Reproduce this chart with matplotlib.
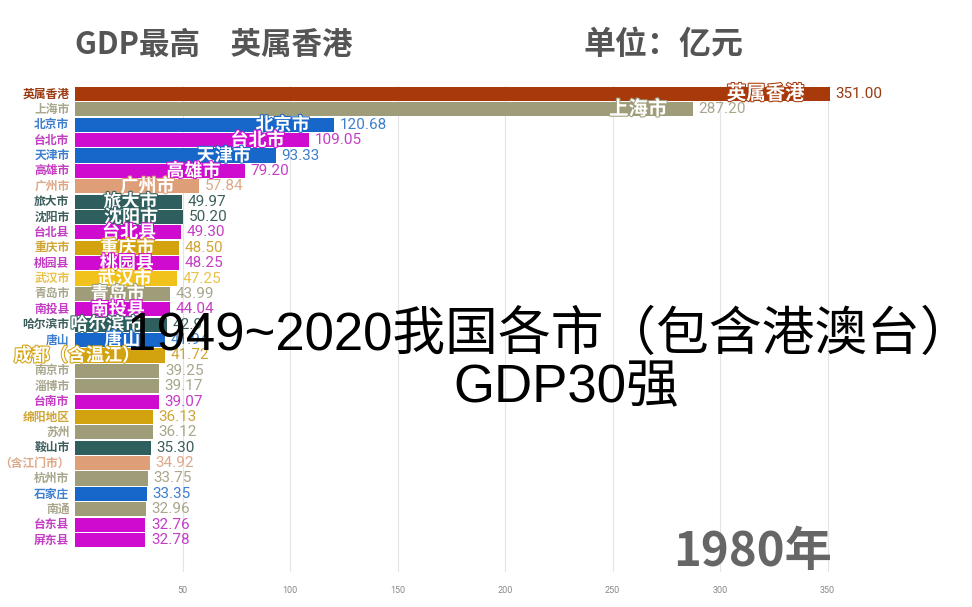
import matplotlib
matplotlib.use("Agg")
import matplotlib.pyplot as plt
import matplotlib.patheffects as pe
from matplotlib import font_manager as fm

plt.rcParams['font.family'] = ['Noto Sans CJK SC', 'DejaVu Sans']

_names = {f.name for f in fm.fontManager.ttflist}
NARROW = ["Liberation Sans Narrow"] if "Liberation Sans Narrow" in _names else ["Roboto"]

cities = ["英属香港", "上海市", "北京市", "台北市", "天津市", "高雄市", "广州市", "旅大市",
          "沈阳市", "台北县", "重庆市", "桃园县", "武汉市", "青岛市", "南投县", "哈尔滨市",
          "唐山", "成都（含温江）", "南京市", "淄博市", "台南市", "绵阳地区", "苏州", "鞍山市",
          "（含江门市）", "杭州市", "石家庄", "南通", "台东县", "屏东县"]
left_labels = ["英属香港", "上海市", "北京市", "台北市", "天津市", "高雄市", "广州市", "旅大市",
               "沈阳市", "台北县", "重庆市", "桃园县", "武汉市", "青岛市", "南投县", "哈尔滨市",
               "唐山", "", "南京市", "淄博市", "台南市", "绵阳地区", "苏州", "鞍山市",
               "（含江门市）", "杭州市", "石家庄", "南通", "台东县", "屏东县"]
values = [351.00, 287.20, 120.68, 109.05, 93.33, 79.20, 57.84, 49.97, 50.20, 49.30,
          48.50, 48.25, 47.25, 43.99, 44.04, 42.91, 41.94, 41.72, 39.25, 39.17,
          39.07, 36.13, 36.12, 35.30, 34.92, 33.75, 33.35, 32.96, 32.76, 32.78]
groups = ["hk", "olive", "blue", "mag", "blue", "mag", "tan", "teal", "teal", "mag",
          "gold", "mag", "yellow", "olive", "mag", "teal", "blue", "gold", "olive", "olive",
          "mag", "gold", "olive", "teal", "tan", "olive", "blue", "olive", "mag", "mag"]
inside_count = 18
ticks = [50, 100, 150, 200, 250, 300, 350]
year_text = "1980年"

palette = {"hk": "#A8390A", "olive": "#9E9C79", "blue": "#1766C9", "mag": "#CF0BCF",
           "tan": "#DE9F78", "teal": "#2E5E5D", "gold": "#D3A20F", "yellow": "#F1C21C"}
text_palette = {"hk": "#9A3A12", "olive": "#A8A68C", "blue": "#3F7FCF", "mag": "#C43EC4",
                "tan": "#DEA888", "teal": "#3E5E5E", "gold": "#CFA536", "yellow": "#E9C24A"}

fig = plt.figure(figsize=(9.72, 6.07), dpi=100)
W, H = 972, 607
ax = fig.add_axes([75 / W, 1 - 572 / H, (862 - 75) / W, (572 - 86) / H])
n = len(values)
ypos = list(range(n))
colors = [palette[g] for g in groups]
ax.barh(ypos, values, height=0.92, color=colors, zorder=2)
ax.set_xlim(0, 366)
ax.set_ylim(n - 1 + 2.08, -0.52)
ax.set_xticks(ticks)
ax.set_xticklabels([str(t) for t in ticks], fontsize=6.5, color="#888888",
                   family=NARROW + ["DejaVu Sans"])
ax.tick_params(axis="x", length=0, pad=10)
ax.set_yticks(ypos)
ax.set_yticklabels([])
ax.tick_params(axis="y", length=0)
for s in ax.spines.values():
    s.set_visible(False)
ax.grid(axis="x", color="#E4E4E4", linewidth=0.8, zorder=0)

for i, (lab, g) in enumerate(zip(left_labels, groups)):
    ax.annotate(lab, xy=(0, i), xytext=(-4, 0), textcoords="offset points",
                ha="right", va="center", fontsize=8.5, fontweight="bold",
                color=text_palette[g], annotation_clip=False)

for i, (v, g) in enumerate(zip(values, groups)):
    ax.annotate(f"{v:.2f}", xy=(v, i), xytext=(4, 0), textcoords="offset points",
                ha="left", va="center", fontsize=11, color=text_palette[g],
                family=NARROW + ["DejaVu Sans"], annotation_clip=False)

for i in range(inside_count):
    v, g = values[i], groups[i]
    fs = 14 if i < 2 else 13
    ax.annotate(cities[i], xy=(v, i), xytext=(-18, 0), textcoords="offset points",
                ha="right", va="center", fontsize=fs, fontweight="bold", color="white",
                path_effects=[pe.withStroke(linewidth=1.5, foreground=palette[g])],
                annotation_clip=False, zorder=4)

fig.text(75 / W, 1 - 45 / H, "GDP最高\u3000英属香港", fontsize=22, fontweight="bold",
         color="#555555", ha="left", va="center")
fig.text(583 / W, 1 - 45 / H, "单位：亿元", fontsize=23, fontweight="bold",
         color="#555555", ha="left", va="center")
fig.text(832 / W, 1 - 552 / H, year_text, fontsize=34, fontweight="bold",
         color="#666666", ha="right", va="center")
big_family = ["Liberation Sans", "Noto Sans CJK SC"]
fig.text(550 / W, 1 - 336 / H, "1949~2020我国各市（包含港澳台）", fontsize=38,
         family=big_family, color="black", ha="center", va="center", zorder=10)
fig.text(566 / W, 1 - 388 / H, "GDP30强", fontsize=38, family=big_family,
         color="black", ha="center", va="center", zorder=10)

fig.savefig("out.png", dpi=100)
